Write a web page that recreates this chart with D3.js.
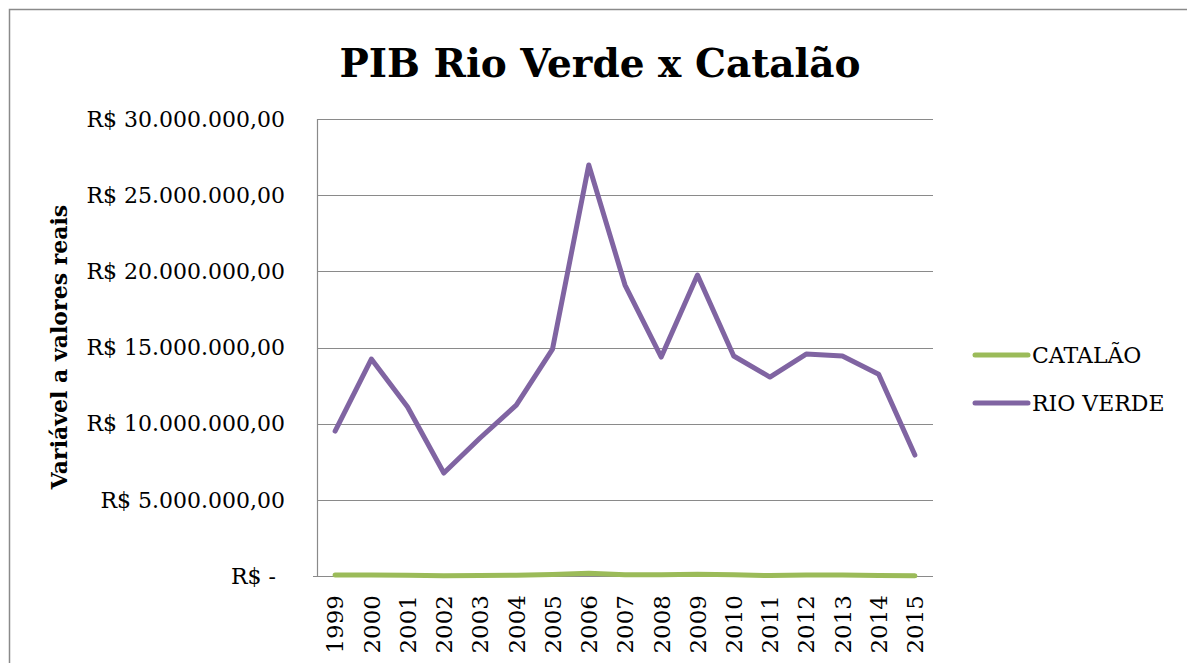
<!DOCTYPE html>
<html>
<head>
<meta charset="utf-8">
<script src="https://cdn.jsdelivr.net/npm/d3@7"></script>
<style>
  body { margin: 0; background: #fff; }
  svg { display: block; }
</style>
</head>
<body>
<svg id="chart" width="1187" height="663"></svg>
<script>
const years = ['1999', '2000', '2001', '2002', '2003', '2004', '2005', '2006', '2007',
               '2008', '2009', '2010', '2011', '2012', '2013', '2014', '2015']
const rioVerde = [9510000, 14240000, 11090000, 6760000, 9060000, 11220000, 14900000, 26980000, 19100000,
                  14370000, 19760000, 14440000, 13060000, 14570000, 14440000, 13250000, 7940000]
const catalao = [60000, 60000, 50000, 20000, 40000, 50000, 100000, 180000, 90000,
                 80000, 120000, 80000, 30000, 70000, 70000, 40000, 10000]
const yTicks = [0, 5000000, 10000000, 15000000, 20000000, 25000000, 30000000]
const seriesNames = ['CATALÃO', 'RIO VERDE']
const seriesColors = ['#9bbb59', '#8064a2']

const font = 'DejaVu Serif, Liberation Serif, serif'
const svg = d3.select('#chart')

// outer frame of the chart object
svg.append('rect')
  .attr('x', 9.5).attr('y', 9.5)
  .attr('width', 1200).attr('height', 700)
  .attr('fill', '#fff')
  .attr('stroke', '#8a8a8a').attr('stroke-width', 1.5)

const plot = { left: 317, right: 933, top: 119, bottom: 576 }

const x = d3.scalePoint()
  .domain(years)
  .range([plot.left, plot.right])
  .padding(0.5)

const y = d3.scaleLinear()
  .domain([0, 30000000])
  .range([plot.bottom, plot.top])

const br = d3.formatLocale({ decimal: ',', thousands: '.', grouping: [3], currency: ['R$ ', ''] })
const money = v => v === 0 ? 'R$ -' : 'R$ ' + br.format(',.2f')(v)

// gridlines
svg.append('g')
  .selectAll('line')
  .data(yTicks)
  .join('line')
    .attr('x1', d => d === 0 ? plot.left - 4 : plot.left)
    .attr('x2', plot.right)
    .attr('y1', d => Math.round(y(d)) + 0.5)
    .attr('y2', d => Math.round(y(d)) + 0.5)
    .attr('stroke', '#8a8a8a')
    .attr('stroke-width', 1.2)

// vertical axis line
svg.append('line')
  .attr('x1', plot.left + 0.5).attr('x2', plot.left + 0.5)
  .attr('y1', plot.top).attr('y2', plot.bottom)
  .attr('stroke', '#8a8a8a')
  .attr('stroke-width', 1.2)

// y tick labels
svg.append('g')
  .selectAll('text')
  .data(yTicks)
  .join('text')
    .attr('x', d => d === 0 ? 276 : 285)
    .attr('y', d => y(d))
    .attr('dy', '0.35em')
    .attr('text-anchor', 'end')
    .attr('font-family', font)
    .attr('font-size', 22)
    .attr('fill', '#000')
    .text(money)

// x tick labels, rotated
svg.append('g')
  .selectAll('text')
  .data(years)
  .join('text')
    .attr('transform', d => `translate(${x(d)}, 595) rotate(-90)`)
    .attr('dy', '0.36em')
    .attr('text-anchor', 'end')
    .attr('font-family', font)
    .attr('font-size', 23)
    .attr('fill', '#000')
    .text(d => d)

const line = d3.line()
  .x((d, i) => x(years[i]))
  .y(d => y(d))

// catalao first so rio verde sits on top
svg.append('path')
  .attr('d', line(catalao))
  .attr('fill', 'none')
  .attr('stroke', seriesColors[0])
  .attr('stroke-width', 5)
  .attr('stroke-linecap', 'round')
  .attr('stroke-linejoin', 'round')

svg.append('path')
  .attr('d', line(rioVerde))
  .attr('fill', 'none')
  .attr('stroke', seriesColors[1])
  .attr('stroke-width', 5)
  .attr('stroke-linecap', 'round')
  .attr('stroke-linejoin', 'round')

// title
svg.append('text')
  .attr('x', 600).attr('y', 77)
  .attr('text-anchor', 'middle')
  .attr('font-family', font)
  .attr('font-weight', 'bold')
  .attr('font-size', 39)
  .text('PIB Rio Verde x Catalão')

// y axis title
svg.append('text')
  .attr('transform', 'translate(67, 347) rotate(-90)')
  .attr('text-anchor', 'middle')
  .attr('font-family', font)
  .attr('font-weight', 'bold')
  .attr('font-size', 22)
  .text('Variável a valores reais')

// legend
const legend = svg.append('g')
  .selectAll('g')
  .data(seriesNames)
  .join('g')
    .attr('transform', (d, i) => `translate(975, ${355 + i * 48})`)

legend.append('line')
  .attr('x1', 0).attr('x2', 53)
  .attr('stroke', (d, i) => seriesColors[i])
  .attr('stroke-width', 5)
  .attr('stroke-linecap', 'round')

legend.append('text')
  .attr('x', 57)
  .attr('dy', '0.36em')
  .attr('font-family', font)
  .attr('font-size', 22)
  .text(d => d)
</script>
</body>
</html>
